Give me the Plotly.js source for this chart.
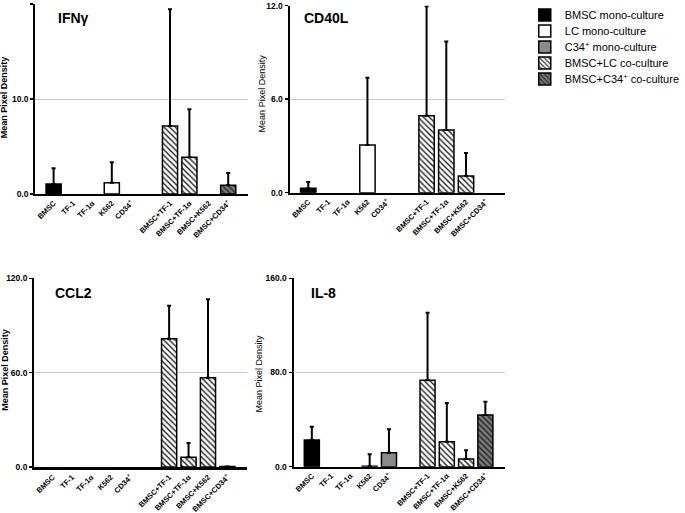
<!DOCTYPE html>
<html>
<head>
<meta charset="utf-8">
<script src="https://cdn.plot.ly/plotly-3.0.1.min.js"></script>
<style>html,body{margin:0;padding:0;background:#fff;}#chart{width:685px;height:513px;}</style>
</head>
<body>
<div id="chart"></div>
<script>
// ---- data ----
const categories = ['BMSC','TF-1','TF-1\u03b1','K562','CD34<sup>+</sup>','BMSC+TF-1','BMSC+TF-1\u03b1','BMSC+K562','BMSC+CD34<sup>+</sup>'];
const spacerAfter = 4; // gap after the mono-culture categories
const groupNames = ['BMSC mono-culture','LC mono-culture','C34<sup>+</sup> mono-culture','BMSC+LC co-culture','BMSC+C34<sup>+</sup> co-culture'];
const categoryGroup = [0,1,1,1,2,3,3,3,4];

const panelTitles = ['IFN\u03b3','CD40L','CCL2','IL-8'];
const yAxisTitle = 'Mean Pixel Density';
const yMax = [20, 12, 120, 160];
const yStep = [10, 6, 60, 80];

const ifngMean = [1.05, null, null, 1.19, null, 7.16, 3.86, null, 0.91];
const ifngErr  = [1.65, 0, 0, 2.15, 0, 12.3, 5.05, 0, 1.3];
const cd40lMean = [0.28, null, null, 3.06, null, 4.94, 4.02, 1.07, null];
const cd40lErr  = [0.41, 0, 0, 4.31, 0, 7.03, 5.68, 1.47, 0];
const ccl2Mean = [null, null, null, null, null, 81.6, 6.2, 56.8, 0.3];
const ccl2Err  = [0, 0, 0, 0, 0, 21.0, 9.1, 49.9, 0];
const il8Mean = [22.7, null, null, 0.3, 11.9, 73.4, 21.2, 6.5, 43.9];
const il8Err  = [11.3, 0, 0, 10.2, 19.8, 57.4, 32.9, 7.4, 11.3];

const panelMeans = [ifngMean, cd40lMean, ccl2Mean, il8Mean];
const panelErrs = [ifngErr, cd40lErr, ccl2Err, il8Err];

// ---- styles ----
const FONT = '"Liberation Sans", Arial, sans-serif';
const groupStyle = [
  {color:'#000000', pattern:{shape:''}},
  {color:'#ffffff', pattern:{shape:''}},
  {color:'#8a8a8a', pattern:{shape:''}},
  {color:'#ffffff', pattern:{shape:'\\', fgcolor:'#222222', bgcolor:'#ffffff', size:4, solidity:0.35}},
  {color:'#777777', pattern:{shape:'\\', fgcolor:'#222222', bgcolor:'#7a7a7a', size:4, solidity:0.35}}
];

const axisCats = categories.slice(0, spacerAfter+1).concat(['\u2003'], categories.slice(spacerAfter+1));

const W = 685, H = 513;
// panel pixel boxes: [left, right, top, bottom]
const boxes = [
  [36.4, 256.2, 4, 194],
  [299.6, 523, 5.7, 192.7],
  [35.3, 255.4, 278.3, 467],
  [303.7, 522.2, 278.3, 466.7]
];
const titlePos = [[58, 18], [313, 18], [55, 293], [320, 293]];
const yTitlePos = [[4.5, 97], [271.5, 93], [5, 370], [268.5, 373]];
const yTitleBold = [true, false, true, false];
const legendY = [15, 31, 47, 63, 79];

const traces = [];
const layout = {
  width: W, height: H,
  margin: {l:0, r:0, t:0, b:0},
  paper_bgcolor: '#ffffff', plot_bgcolor: '#ffffff',
  barmode: 'overlay',
  showlegend: true,
  annotations: [],
  font: {family: FONT}
};
groupNames.forEach((g, i) => {
  const key = i === 0 ? 'legend' : 'legend' + (i+1);
  layout[key] = {x: 543/W, y: 1 - legendY[i]/H, xanchor:'left', yanchor:'middle',
    font:{family:FONT, size:11, color:'#000'}, bgcolor:'rgba(0,0,0,0)', borderwidth:0};
});

for (let p = 0; p < 4; p++) {
  const sfx = p === 0 ? '' : String(p+1);
  const xa = 'x' + sfx, ya = 'y' + sfx;
  for (let g = 0; g < groupNames.length; g++) {
    const xs = [], ys = [], es = [];
    categories.forEach((c, i) => {
      if (categoryGroup[i] === g && panelMeans[p][i] !== null) {
        xs.push(c); ys.push(panelMeans[p][i]); es.push(panelErrs[p][i]);
      }
    });
    const st = groupStyle[g];
    traces.push({
      type:'bar', x: (xs.length ? xs : [categories[0]]), y: (xs.length ? ys : [null]),
      xaxis: xa, yaxis: ya, width: 0.78,
      name: groupNames[g], legend: g === 0 ? 'legend' : 'legend' + (g+1),
      legendgroup: 'g'+g, showlegend: p === 0,
      marker: {color: st.color, pattern: st.pattern, line:{color:'#000', width:1.5}},
      error_y: {type:'data', array: es, arrayminus: es.map(() => 0), symmetric:false,
                visible:true, color:'#000', thickness:2, width:2},
      hoverinfo:'x+y'
    });
  }
  const b = boxes[p];
  layout['xaxis' + sfx] = {
    domain: [b[0]/W, b[1]/W], anchor: ya,
    type:'category', categoryorder:'array', categoryarray: axisCats,
    tickvals: categories, ticktext: categories,
    range: [-0.95, 10.0],
    showline:true, linecolor:'#000', linewidth: p === 2 ? 3 : 2, ticks:'', showgrid:false, zeroline:false,
    tickangle:-45, tickfont:{family:FONT, size:7.5, color:'#000', weight:'bold'}
  };
  layout['yaxis' + sfx] = {
    domain: [(H - b[3])/H, (H - b[2])/H], anchor: xa,
    range: [0, yMax[p]], tick0: 0, dtick: yStep[p], tickformat: '.1f',
    showline:true, linecolor:'#000', linewidth:2, ticks:'outside', ticklen:3, tickwidth:1.5, tickcolor:'#000',
    showgrid:true, gridcolor:'#c8c8c8', gridwidth:1, zeroline:false,
    tickfont:{family:FONT, size:8.5, color:'#000', weight:'bold'}
  };
  layout.annotations.push({
    text: '<b>' + panelTitles[p] + '</b>', xref:'paper', yref:'paper',
    x: titlePos[p][0]/W, y: 1 - titlePos[p][1]/H, xanchor:'left', yanchor:'middle',
    showarrow:false, font:{family:FONT, size:14, color:'#000'}
  });
  layout.annotations.push({
    text: yTitleBold[p] ? '<b>' + yAxisTitle + '</b>' : yAxisTitle, xref:'paper', yref:'paper',
    x: yTitlePos[p][0]/W, y: 1 - yTitlePos[p][1]/H, xanchor:'center', yanchor:'middle',
    textangle:-90, showarrow:false, font:{family:FONT, size:9, color:'#000'}
  });
}

Plotly.newPlot('chart', traces, layout, {displayModeBar:false, staticPlot:true});
</script>
</body>
</html>
